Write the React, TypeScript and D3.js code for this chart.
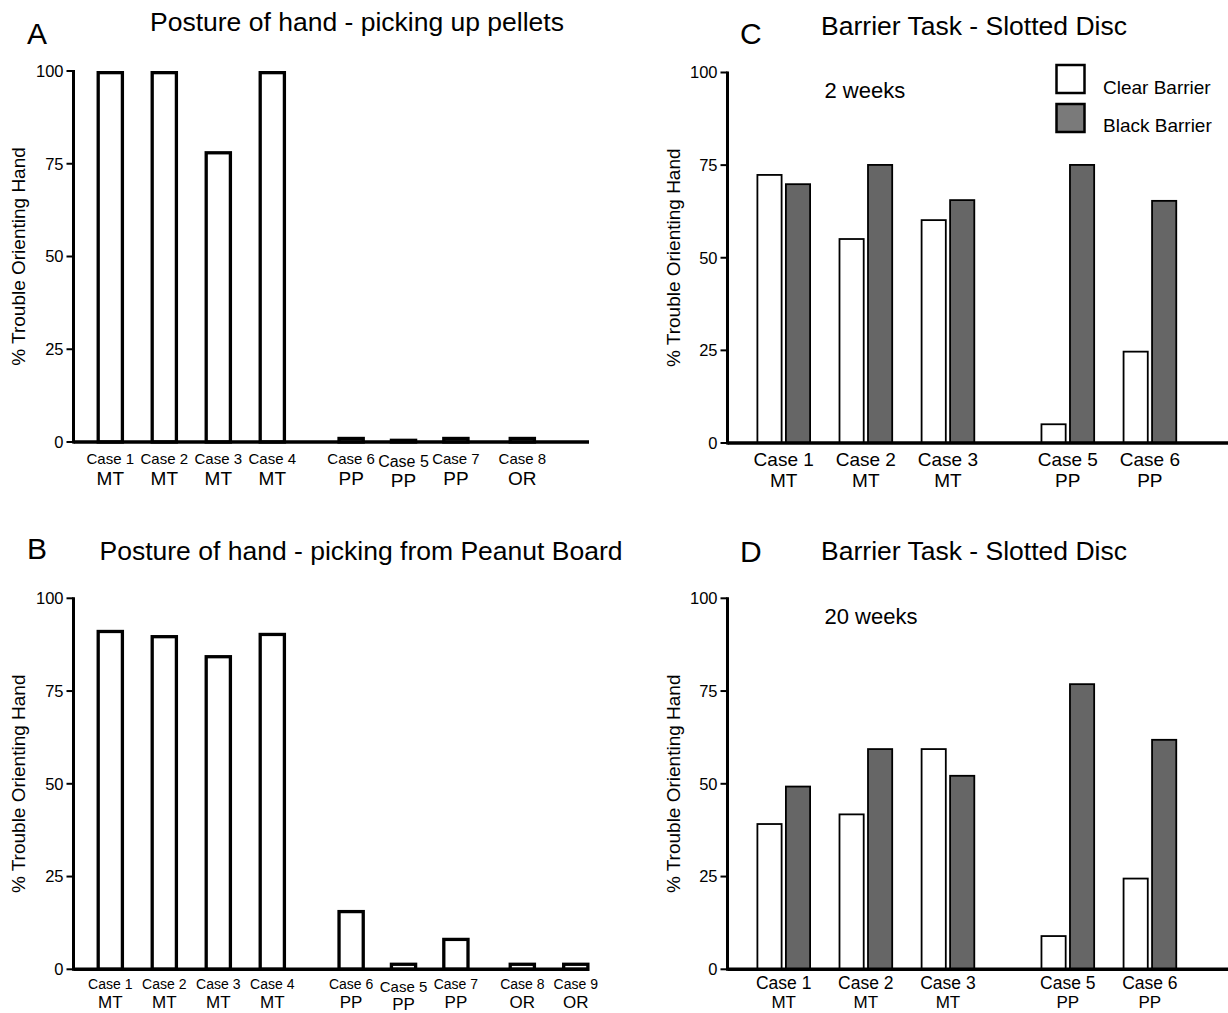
import React from "react";
import * as d3 from "d3";

const FONT = "'Liberation Sans', Arial, Helvetica, sans-serif";

// y ticks shared by every panel
const yTicks = [0, 25, 50, 75, 100];

// panel A - picking up pellets
const casesA = ["Case 1", "Case 2", "Case 3", "Case 4", "Case 6", "Case 5", "Case 7", "Case 8"];
const groupsA = ["MT", "MT", "MT", "MT", "PP", "PP", "PP", "OR"];
const slotsA = [0, 1, 2, 3, 4.46, 5.43, 6.4, 7.63];
const valuesA = [100, 100, 78.4, 100, 1.4, 0.9, 1.4, 1.4];

// panel B - peanut board
const casesB = ["Case 1", "Case 2", "Case 3", "Case 4", "Case 6", "Case 5", "Case 7", "Case 8", "Case 9"];
const groupsB = ["MT", "MT", "MT", "MT", "PP", "PP", "PP", "OR", "OR"];
const slotsB = [0, 1, 2, 3, 4.46, 5.43, 6.4, 7.63, 8.62];
const valuesB = [91.5, 90.1, 84.7, 90.7, 16.0, 1.8, 8.5, 1.8, 1.8];

// panels C and D - barrier task
const casesCD = ["Case 1", "Case 2", "Case 3", "Case 5", "Case 6"];
const groupsCD = ["MT", "MT", "MT", "PP", "PP"];
const slotsCD = [0, 1, 2, 3.46, 4.46];
const clearC = [72.6, 55.3, 60.4, 5.3, 24.9];
const blackC = [70.1, 75.3, 65.8, 75.3, 65.6];
const clearD = [39.4, 42.0, 59.6, 9.2, 24.7];
const blackD = [49.5, 59.6, 52.4, 77.1, 62.1];

const legendItems = ["Clear Barrier", "Black Barrier"];

type Series = { values: number[]; fill: string; offset: number };

type PanelProps = {
  letter: string;
  letterX: number;
  letterY: number;
  title: string;
  titleX: number;
  titleY: number;
  axisX: number;
  yTop: number;
  yBase: number;
  xEnd: number;
  x0: number;
  step: number;
  cases: string[];
  groups: string[];
  slots: number[];
  series: Series[];
  barW: number;
  barStroke: number;
  caseFont: number;
  groupFont: number;
  caseY: number;
  groupY: number;
  labelX: number;
  note?: string;
  legend?: boolean;
  shiftCase5?: boolean;
};

function Panel(p: PanelProps) {
  const y = d3.scaleLinear().domain([0, 100]).range([p.yBase, p.yTop]);
  const x = d3.scaleLinear().domain([0, 1]).range([p.x0, p.x0 + p.step]);
  const half = p.barStroke / 2;
  const midY = (p.yTop + p.yBase) / 2;

  return (
    <g>
      <text x={p.letterX} y={p.letterY} fontSize={30} fontFamily={FONT}>
        {p.letter}
      </text>
      <text x={p.titleX} y={p.titleY} fontSize={26.5} fontFamily={FONT} textAnchor="middle">
        {p.title}
      </text>
      <text
        transform={`translate(${p.labelX},${midY}) rotate(-90)`}
        textAnchor="middle"
        fontSize={19}
        fontFamily={FONT}
      >
        % Trouble Orienting Hand
      </text>

      {/* y axis */}
      {yTicks.map((t) => (
        <g key={t}>
          <line x1={p.axisX - 7} x2={p.axisX} y1={y(t)} y2={y(t)} stroke="#000" strokeWidth={2} />
          <text
            x={p.axisX - 10}
            y={y(t)}
            dy="0.35em"
            textAnchor="end"
            fontSize={16.5}
            fontFamily={FONT}
          >
            {t}
          </text>
        </g>
      ))}

      {/* bars */}
      {p.series.map((s, si) =>
        s.values.map((v, i) => {
          const cx = x(p.slots[i]) + s.offset;
          return (
            <rect
              key={si + "-" + i}
              x={cx - p.barW / 2 + half}
              y={y(v) + half}
              width={p.barW - p.barStroke}
              height={Math.max(0, p.yBase - y(v) - half)}
              fill={s.fill}
              stroke="#000"
              strokeWidth={p.barStroke}
            />
          );
        })
      )}

      <line x1={p.axisX} x2={p.axisX} y1={p.yTop - 1} y2={p.yBase + 1.5} stroke="#000" strokeWidth={3} />
      <line x1={p.axisX} x2={p.xEnd} y1={p.yBase} y2={p.yBase} stroke="#000" strokeWidth={3.5} />

      {/* category labels */}
      {p.cases.map((c, i) => {
        const shift = p.shiftCase5 && c === "Case 5" ? 2 : 0;
        const cx = x(p.slots[i]);
        return (
          <g key={c}>
            <text
              x={cx}
              y={p.caseY + shift}
              dy="0.35em"
              textAnchor="middle"
              fontSize={p.caseFont + (shift ? 1 : 0)}
              fontFamily={FONT}
            >
              {c}
            </text>
            <text
              x={cx}
              y={p.groupY + shift}
              dy="0.35em"
              textAnchor="middle"
              fontSize={p.groupFont}
              fontFamily={FONT}
            >
              {p.groups[i]}
            </text>
          </g>
        );
      })}

      {p.note && (
        <text x={p.axisX + 97} y={p.yTop + 18} dy="0.35em" fontSize={22} fontFamily={FONT}>
          {p.note}
        </text>
      )}

      {p.legend &&
        legendItems.map((l, i) => (
          <g key={l}>
            <rect
              x={1056.5}
              y={65 + i * 39}
              width={28}
              height={28}
              fill={i === 0 ? "#fff" : "#7a7a7a"}
              stroke="#000"
              strokeWidth={2.5}
            />
            <text x={1103} y={87 + i * 38} dy="0.35em" fontSize={19} fontFamily={FONT}>
              {l}
            </text>
          </g>
        ))}
    </g>
  );
}

export default function App() {
  const single = {
    axisX: 73.5,
    xEnd: 589,
    x0: 110.3,
    step: 54,
    barW: 27.5,
    barStroke: 3.3,
    labelX: 25,
    letterX: 27,
    shiftCase5: true,
  };
  const paired = {
    axisX: 727.5,
    xEnd: 1228,
    x0: 783.7,
    step: 82.1,
    barW: 26,
    barStroke: 1.8,
    labelX: 680,
    letterX: 740,
    cases: casesCD,
    groups: groupsCD,
    slots: slotsCD,
  };

  return (
    <div style={{ position: "absolute", left: 0, top: 0 }}>
      <svg width={1228} height={1013} style={{ display: "block", background: "#fff" }}>
        <Panel
          {...single}
          letter="A"
          letterY={44}
          title="Posture of hand - picking up pellets"
          titleX={357}
          titleY={31}
          yTop={71}
          yBase={442}
          cases={casesA}
          groups={groupsA}
          slots={slotsA}
          series={[{ values: valuesA, fill: "#fff", offset: 0 }]}
          caseY={459}
          groupY={478}
          caseFont={15}
          groupFont={19}
        />
        <Panel
          {...single}
          letter="B"
          letterY={559}
          title="Posture of hand - picking from Peanut Board"
          titleX={361}
          titleY={560}
          yTop={598.3}
          yBase={969.3}
          cases={casesB}
          groups={groupsB}
          slots={slotsB}
          series={[{ values: valuesB, fill: "#fff", offset: 0 }]}
          caseY={984.5}
          groupY={1002}
          caseFont={14}
          groupFont={17}
        />
        <Panel
          {...paired}
          letter="C"
          letterY={44}
          title="Barrier Task - Slotted Disc"
          titleX={974}
          titleY={35}
          yTop={72.5}
          yBase={443}
          series={[
            { values: clearC, fill: "#fff", offset: -14.2 },
            { values: blackC, fill: "#666", offset: 14.3 },
          ]}
          caseY={459}
          groupY={480}
          caseFont={19}
          groupFont={19}
          note="2 weeks"
          legend
        />
        <Panel
          {...paired}
          letter="D"
          letterY={562}
          title="Barrier Task - Slotted Disc"
          titleX={974}
          titleY={560}
          yTop={598.3}
          yBase={969.3}
          series={[
            { values: clearD, fill: "#fff", offset: -14.2 },
            { values: blackD, fill: "#666", offset: 14.3 },
          ]}
          caseY={983}
          groupY={1002}
          caseFont={17.5}
          groupFont={17}
          note="20 weeks"
        />
      </svg>
    </div>
  );
}
